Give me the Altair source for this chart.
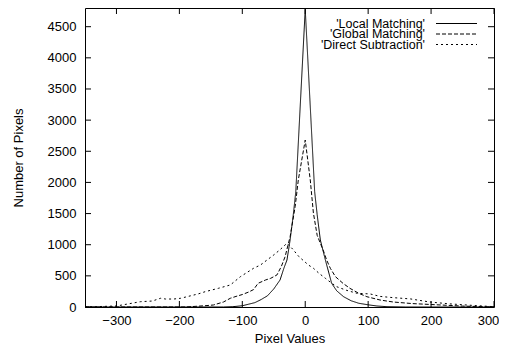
import altair as alt
import pandas as pd

# ---- data ----
series_names = ["'Local Matching'", "'Global Matching'", "'Direct Subtraction'"]

local_x = [-350, -130, -115, -100, -90, -80, -70, -60, -50, -40, -34, -29, -24, -19, -15, 0,
           15, 19, 24, 32, 42, 50, 61, 73, 85, 100, 114, 130, 160, 300]
local_y = [0, 0, 5, 20, 45, 70, 120, 180, 290, 434, 620, 755, 1077, 1480, 1850, 4780,
           1850, 1480, 1077, 755, 380, 260, 165, 100, 60, 35, 16, 5, 0, 0]

global_x = [-350, -190, -160, -146, -130, -119, -110, -100, -90, -82, -75, -63, -55, -45, -38,
            -32, -24, -16, -11, 0, 8, 13, 19, 24, 29, 34, 40, 48, 60, 71, 85, 98, 119, 140,
            170, 200, 250, 300]
global_y = [0, 0, 20, 32, 80, 140, 170, 200, 240, 280, 380, 434, 460, 514, 650,
            808, 1130, 1612, 2040, 2680, 2040, 1506, 1150, 1024, 900, 755, 620, 487, 380, 300,
            220, 165, 112, 80, 55, 40, 15, 0]

direct_x = [-350, -300, -262, -243, -230, -222, -209, -198, -188, -170, -159, -138, -119, -103,
            -82, -71, -60, -50, -40, -29, -20, -10, 5, 13, 22, 32, 41, 50, 65, 82, 103, 119,
            140, 167, 198, 230, 267, 300]
direct_y = [0, 16, 85, 96, 140, 128, 128, 140, 165, 210, 246, 300, 354, 487,
            622, 675, 760, 836, 920, 1024, 930, 808, 675, 622, 540, 461, 390, 326, 270, 220, 210,
            170, 150, 130, 80, 50, 25, 5]

x_ticks = [-300, -200, -100, 0, 100, 200, 300]
y_ticks = [0, 500, 1000, 1500, 2000, 2500, 3000, 3500, 4000, 4500]

# ---- build tables ----
rows = []
for name, xs, ys in zip(series_names, [local_x, global_x, direct_x], [local_y, global_y, direct_y]):
    for a, b in zip(xs, ys):
        rows.append({"x": a, "y": b, "series": name})
df = pd.DataFrame(rows)

W, H = 409, 299
FONT = "Liberation Sans"
FS = 13
dashes = [[1, 0], [4, 2], [2, 3]]

xscale = alt.Scale(domain=[-350, 300], nice=False, zero=False)
yscale = alt.Scale(domain=[0, 4800], nice=False)

xaxis = alt.Axis(values=x_ticks, format="d", labelOverlap=False, labelFlush=False,
                 labelOffset={"condition": {"test": "datum.value >= 300", "value": -6},
                              "value": 0},
                 title="Pixel Values", grid=False, domain=False,
                 ticks=False, tickSize=0, labelPadding=7, labelFontSize=FS,
                 labelFont=FONT, labelColor="black", titleFont=FONT,
                 titleFontSize=FS, titleFontWeight="normal", titleColor="black",
                 titleX=W / 2, titleY=25, titleBaseline="top")
yaxis = alt.Axis(values=y_ticks, format="d", labelOverlap=False, labelFlush=False,
                 title="Number of Pixels", grid=False, domain=False,
                 ticks=False, tickSize=0, labelPadding=9, labelFontSize=FS,
                 labelFont=FONT, labelColor="black", titleFont=FONT,
                 titleFontSize=FS, titleFontWeight="normal", titleColor="black",
                 titleX=-67, titleY=H / 2, titleAngle=-90, titleAlign="center",
                 titleBaseline="middle")

X = alt.X("x:Q", scale=xscale, axis=xaxis, title="Pixel Values")
Y = alt.Y("y:Q", scale=yscale, axis=yaxis, title="Number of Pixels")

lines = alt.Chart(df).mark_line(color="black", strokeWidth=1).encode(
    x=X, y=Y,
    strokeDash=alt.StrokeDash("series:N", scale=alt.Scale(domain=series_names, range=dashes),
                              legend=None),
    detail="series:N",
)

xt = pd.DataFrame({"x": x_ticks})
yt = pd.DataFrame({"y": y_ticks})
TL = 6
tick_style = dict(color="black", strokeWidth=1)
bottom_ticks = alt.Chart(xt).mark_rule(**tick_style).encode(
    x=X, y=alt.value(H), y2=alt.value(H - TL))
top_ticks = alt.Chart(xt).mark_rule(**tick_style).encode(
    x=X, y=alt.value(0), y2=alt.value(TL))
left_ticks = alt.Chart(yt).mark_rule(**tick_style).encode(
    y=Y, x=alt.value(0), x2=alt.value(TL))
right_ticks = alt.Chart(yt).mark_rule(**tick_style).encode(
    y=Y, x=alt.value(W), x2=alt.value(W - TL))

# ---- legend (top right, labels left of samples) ----
legend_layers = []
row_y = [15.5, 26, 36.5]
for i, name in enumerate(series_names):
    ld = pd.DataFrame({"series": [name]})
    legend_layers.append(
        alt.Chart(ld).mark_text(align="right", baseline="middle", font=FONT, fontSize=12.5,
                                color="black").encode(
            text="series:N", x=alt.value(340), y=alt.value(row_y[i])))
    legend_layers.append(
        alt.Chart(ld).mark_rule(color="black", strokeWidth=1, strokeDash=dashes[i]).encode(
            x=alt.value(351), x2=alt.value(392), y=alt.value(row_y[i])))

chart = alt.layer(lines, bottom_ticks, top_ticks, left_ticks, right_ticks, *legend_layers).properties(
    width=W, height=H,
    autosize=alt.AutoSizeParams(type="none"),
    padding={"left": 77, "top": 0, "right": 5, "bottom": 38},
    background="white",
).configure_view(stroke="black", strokeWidth=1)

chart.save("out.html", embed_options={"renderer": "svg", "actions": False})
